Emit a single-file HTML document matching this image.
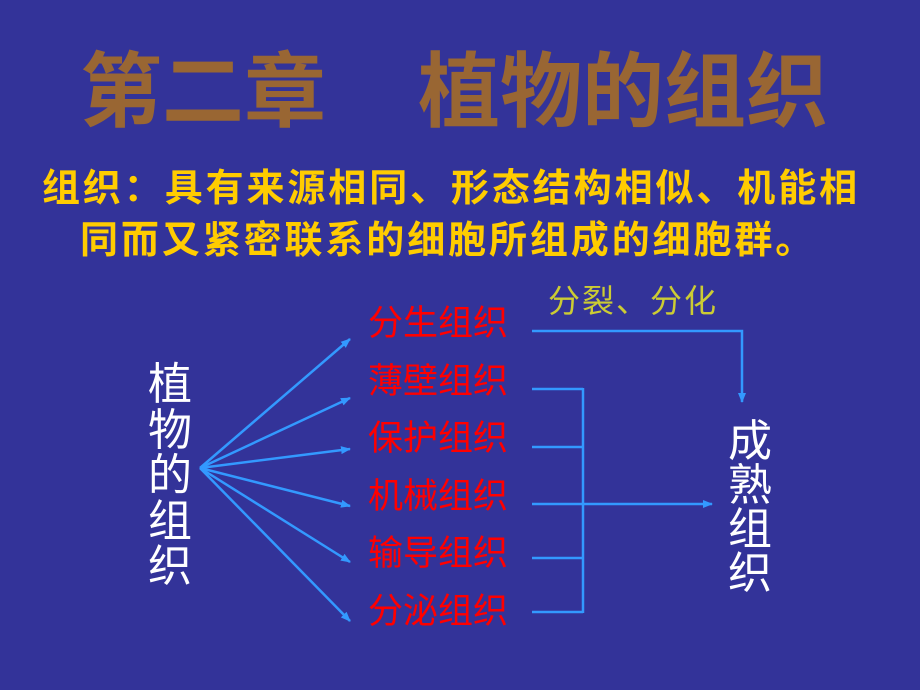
<!DOCTYPE html>
<html><head><meta charset="utf-8"><style>
body{margin:0;}
#s{position:relative;width:920px;height:690px;background:#333399;overflow:hidden;font-family:"Liberation Sans","Noto Sans CJK SC","WenQuanYi Zen Hei",sans-serif;}
.t{position:absolute;white-space:nowrap;line-height:1;}
</style></head><body><div id="s">
<div class="t" style="left:80px;top:52px;font-size:82px;color:#996633;font-weight:bold;">第二章</div>
<div class="t" style="left:418px;top:52px;font-size:82px;color:#996633;font-weight:bold;">植物的组织</div>
<div class="t" style="left:42px;top:170px;font-size:38px;color:#FFCC00;font-weight:bold;letter-spacing:2.9px;">组织：具有来源相同、形态结构相似、机能相</div>
<div class="t" style="left:80px;top:222px;font-size:38px;color:#FFCC00;font-weight:bold;letter-spacing:2.9px;">同而又紧密联系的细胞所组成的细胞群。</div>
<div class="t" style="left:548px;top:285px;font-size:32px;color:#CCCC33;letter-spacing:2px;">分裂、分化</div>
<div class="t" style="left:368px;font-size:35px;color:#FF0000;line-height:57.5px;top:295px;">分生组织<br>薄壁组织<br>保护组织<br>机械组织<br>输导组织<br>分泌组织</div>
<div class="t" style="left:148px;top:362px;font-size:44px;color:#fff;line-height:45.5px;">植<br>物<br>的<br>组<br>织</div>
<div class="t" style="left:728px;top:420px;font-size:44px;color:#fff;line-height:44px;">成<br>熟<br>组<br>织</div>
<svg width="920" height="690" style="position:absolute;left:0;top:0">
<defs><marker id="a" markerWidth="10" markerHeight="8" refX="9" refY="4" orient="auto" markerUnits="userSpaceOnUse"><path d="M0,0 L10,4 L0,8 Z" fill="#3399FF"/></marker></defs>
<g stroke="#3399FF" stroke-width="2.5" fill="none">
<line x1="200" y1="468" x2="350" y2="339" marker-end="url(#a)"/>
<line x1="200" y1="468" x2="350" y2="398" marker-end="url(#a)"/>
<line x1="200" y1="468" x2="350" y2="449" marker-end="url(#a)"/>
<line x1="200" y1="468" x2="350" y2="506" marker-end="url(#a)"/>
<line x1="200" y1="468" x2="350" y2="562" marker-end="url(#a)"/>
<line x1="200" y1="468" x2="350" y2="621" marker-end="url(#a)"/>
<polyline points="532,331 742,331 742,402" marker-end="url(#a)"/>
<line x1="532" y1="389" x2="583" y2="389"/>
<line x1="532" y1="447" x2="583" y2="447"/>
<line x1="532" y1="558" x2="583" y2="558"/>
<line x1="532" y1="612" x2="583" y2="612"/>
<line x1="583" y1="388" x2="583" y2="613"/>
<line x1="532" y1="504" x2="712" y2="504" marker-end="url(#a)"/>
</g></svg>
</div></body></html>
